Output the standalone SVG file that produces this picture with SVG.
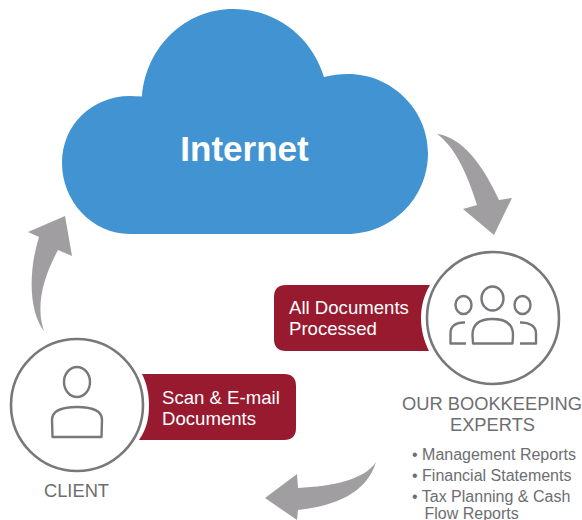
<svg xmlns="http://www.w3.org/2000/svg" width="582" height="520" viewBox="0 0 582 520">
<style>
text{font-family:"Liberation Sans",Arial,sans-serif}
.arrow{fill:#a09ea1}
.ring{fill:#fff;stroke:#77787b;stroke-width:2.6}
.icon{fill:none;stroke:#77787b;stroke-width:2.4;stroke-linejoin:round}
.tag{fill:#971a2f}
.tagt{fill:#fff;font-size:18.6px}
.lab{fill:#6d6e71;font-size:18.3px;text-anchor:middle}
.list{fill:#6d6e71;font-size:16px}
</style>
<rect width="582" height="520" fill="#fff"/>
<g id="connectors">
<path class="arrow" d="M437 134C462 137 483 165 499 200L512 198L494 235L463 209L477 205C467 173 455 147 437 134Z"/>
<path class="arrow" d="M44 331C29 312 28 272 39 237L28 232L65 216L72 256L58 250C44 276 35 305 44 331Z"/>
<path class="arrow" d="M376 462C364 480 333 486 298 488L297 474L265 498L297 520L298 510C335 506 367 493 376 462Z"/>
</g>
<g id="internet">
<path fill="#4293d1" d="M142 96.500C146 46 186 9 233 9C276 9 312 37 324 77C332 75 340 74 348 74C392 74 428 110 428 153C428 198 392 234 347 234H130C92 234 62 201 62 163C62 125 92 96 130 96Q136 96 142 96.500Z"/>
<text x="244.500" y="161" fill="#fff" font-size="35" font-weight="700" text-anchor="middle">Internet</text>
</g>
<g id="client">
<path class="tag" d="M142 374H284Q296 374 296 386V428Q296 440 284 440H139C147 429 149 417 149 405C149 394 147 384 142 374Z"/>
<text class="tagt" x="162" y="403.500">Scan &amp; E-mail</text>
<text class="tagt" x="162" y="424.500">Documents</text>
<circle class="ring" cx="77" cy="405" r="66"/>
<ellipse class="icon" cx="77" cy="382" rx="13" ry="15"/>
<path class="icon" d="M52 420C52 411 62 407 77 407C92 407 102 411 102 420L101.500 437H52.500Z"/>
<text class="lab" x="76.500" y="497">CLIENT</text>
</g>
<g id="experts">
<path class="tag" d="M286 285H430C424 295 421 306 421 318C421 330 424 341 429 351H286Q274 351 274 339V297Q274 285 286 285Z"/>
<text class="tagt" x="289" y="314">All Documents</text>
<text class="tagt" x="289" y="335">Processed</text>
<circle class="ring" cx="493" cy="318" r="66"/>
<ellipse class="icon" cx="492.500" cy="298.500" rx="11" ry="12"/>
<ellipse class="icon" cx="463.500" cy="305" rx="8" ry="9"/>
<ellipse class="icon" cx="522.500" cy="305" rx="8" ry="9"/>
<path class="icon" d="M473 343.500L472.500 335C472.500 323 481 319 492.500 319C504 319 513 323 513 335L512.500 343.500Z"/>
<path class="icon" d="M465 322.500C456 322 450.500 326 450.500 333V343.500H466"/>
<path class="icon" d="M520 322.500C529 322 536 326 536 333V343.500H520"/>
<text class="lab" x="492" y="410">OUR BOOKKEEPING</text>
<text class="lab" x="492.500" y="431">EXPERTS</text>
<text class="list" x="412" y="459.500">• Management Reports</text>
<text class="list" x="412" y="480.500">• Financial Statements</text>
<text class="list" x="412" y="502">• Tax Planning &amp; Cash</text>
<text class="list" x="424.500" y="518.500">Flow Reports</text>
</g>
</svg>
